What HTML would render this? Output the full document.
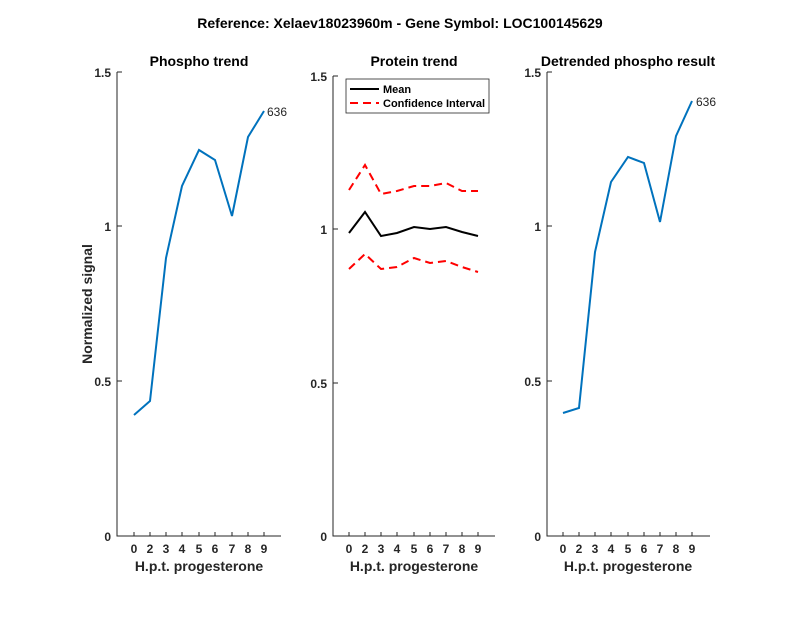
<!DOCTYPE html><html><head><style>body{margin:0;background:#fff}svg{display:block}text{font-family:"Liberation Sans",sans-serif;fill:#262626}</style></head><body>
<svg width="800" height="618" viewBox="0 0 800 618">
<text x="400" y="28" text-anchor="middle" font-size="14" font-weight="bold" style="fill:#000">Reference:  Xelaev18023960m - Gene Symbol:  LOC100145629</text>
<g stroke="#262626" stroke-width="1" fill="none">
<path d="M117,72V536H281"/>
<path d="M333,76V536H495"/>
<path d="M547,72V536H710"/>
<path d="M117,72h5M117,226h5M117,381h5M333,76h5M333,229h5M333,383h5M547,72h5M547,226h5M547,381h5"/>
<path d="M134,536v-4M150,536v-4M166,536v-4M182,536v-4M199,536v-4M215,536v-4M232,536v-4M248,536v-4M264,536v-4"/>
<path d="M349,536v-4M365,536v-4M381,536v-4M397,536v-4M414,536v-4M430,536v-4M446,536v-4M462,536v-4M478,536v-4"/>
<path d="M563,536v-4M579,536v-4M595,536v-4M611,536v-4M628,536v-4M644,536v-4M660,536v-4M676,536v-4M692,536v-4"/>
</g>
<g font-size="12" font-weight="bold" text-anchor="end">
<text x="111" y="77">1.5</text><text x="111" y="231">1</text><text x="111" y="386">0.5</text><text x="111" y="541">0</text>
<text x="327" y="81">1.5</text><text x="327" y="234">1</text><text x="327" y="388">0.5</text><text x="327" y="541">0</text>
<text x="541" y="77">1.5</text><text x="541" y="231">1</text><text x="541" y="386">0.5</text><text x="541" y="541">0</text>
</g>
<g font-size="12" font-weight="bold" text-anchor="middle">
<text x="134" y="553">0</text><text x="150" y="553">2</text><text x="166" y="553">3</text><text x="182" y="553">4</text><text x="199" y="553">5</text><text x="215" y="553">6</text><text x="232" y="553">7</text><text x="248" y="553">8</text><text x="264" y="553">9</text>
<text x="349" y="553">0</text><text x="365" y="553">2</text><text x="381" y="553">3</text><text x="397" y="553">4</text><text x="414" y="553">5</text><text x="430" y="553">6</text><text x="446" y="553">7</text><text x="462" y="553">8</text><text x="478" y="553">9</text>
<text x="563" y="553">0</text><text x="579" y="553">2</text><text x="595" y="553">3</text><text x="611" y="553">4</text><text x="628" y="553">5</text><text x="644" y="553">6</text><text x="660" y="553">7</text><text x="676" y="553">8</text><text x="692" y="553">9</text>
</g>
<g font-size="14" font-weight="bold" text-anchor="middle">
<text x="199" y="571">H.p.t. progesterone</text><text x="414" y="571">H.p.t. progesterone</text><text x="628" y="571">H.p.t. progesterone</text>
<text x="199" y="66" style="fill:#000">Phospho trend</text><text x="414" y="66" style="fill:#000">Protein trend</text><text x="628" y="66" style="fill:#000">Detrended phospho result</text>
<text transform="translate(92,304) rotate(-90)">Normalized signal</text>
</g>
<polyline fill="none" stroke="#0072BD" stroke-width="2" points="134,415 150,401 166,258 182,186 199,150 215,160 232,216 248,137 264,111"/>
<text x="267" y="116" font-size="12">636</text>
<polyline fill="none" stroke="#0072BD" stroke-width="2" points="563,413 579,408 595,252 611,182 628,157 644,163 660,222 676,136 692,101"/>
<text x="696" y="106" font-size="12">636</text>
<polyline fill="none" stroke="#f00" stroke-width="2" stroke-dasharray="8,5" points="349,190 365,165 381,194 397,191 414,186 430,186 446,183 462,191 478,191"/>
<polyline fill="none" stroke="#f00" stroke-width="2" stroke-dasharray="8,5" points="349,269 365,254 381,269 397,267 414,258 430,263 446,261 462,267 478,272"/>
<polyline fill="none" stroke="#000" stroke-width="2" points="349,233 365,212 381,236 397,233 414,227 430,229 446,227 462,232 478,236"/>
<rect x="346" y="79" width="143" height="34" fill="#fff" stroke="#262626" stroke-width="0.8"/>
<line x1="350" y1="89" x2="379" y2="89" stroke="#000" stroke-width="2"/>
<line x1="350" y1="103" x2="379" y2="103" stroke="#f00" stroke-width="2" stroke-dasharray="8,5"/>
<text x="383" y="93" font-size="11" font-weight="bold" style="fill:#000">Mean</text>
<text x="383" y="107" font-size="11" font-weight="bold" style="fill:#000">Confidence Interval</text>
</svg></body></html>
